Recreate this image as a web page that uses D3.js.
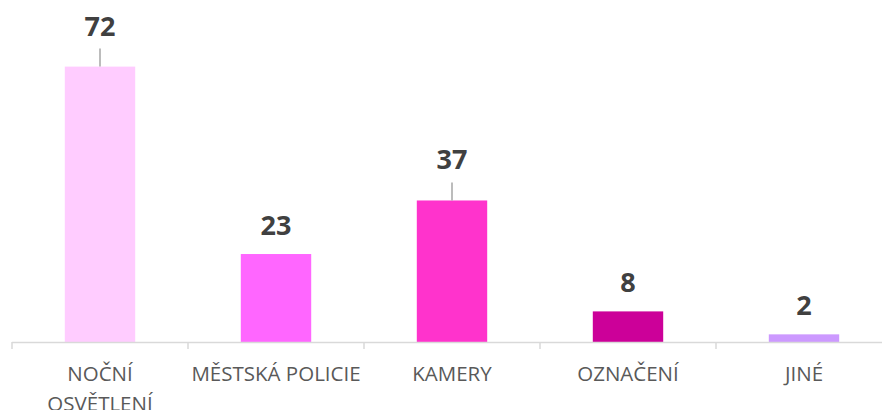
<!DOCTYPE html>
<html>
<head>
<meta charset="utf-8">
<script src="https://cdn.jsdelivr.net/npm/d3@7"></script>
<style>
    body { margin: 0; background: #fff; }
</style>
</head>
<body>
<div id="chart"></div>
<script>
const categories = [["NOČNÍ", "OSVĚTLENÍ"], ["MĚSTSKÁ POLICIE"], ["KAMERY"], ["OZNAČENÍ"], ["JINÉ"]];
const values = [72, 23, 37, 8, 2];
const colors = ["#FFCCFF", "#FF66FF", "#FF33CC", "#CC0099", "#CC99FF"];
const hasLeader = [true, false, true, false, false];

const width = 882, height = 410;
const margin = {top: 36, right: -10, bottom: 68, left: 12};
const baseY = height - margin.bottom;

const svg = d3.select("#chart")
    .append("svg")
    .attr("width", width)
    .attr("height", height);

const x = d3.scaleBand()
    .domain(d3.range(values.length))
    .range([margin.left, width - margin.right])
    .paddingInner(0.6)
    .paddingOuter(0.3);

const y = d3.scaleLinear()
    .domain([0, 80])
    .range([baseY, margin.top]);

// bars
svg.selectAll(".bar")
    .data(values)
    .enter()
    .append("rect")
    .attr("x", (d, i) => x(i))
    .attr("width", x.bandwidth())
    .attr("y", d => y(d))
    .attr("height", d => baseY - y(d))
    .attr("fill", (d, i) => colors[i]);

// axis line + tick marks between categories
const step = x.step();
const edges = d3.range(values.length + 1).map(i => margin.left + i * step);
svg.append("line")
    .attr("x1", margin.left).attr("x2", width - margin.right)
    .attr("y1", baseY + 0.5).attr("y2", baseY + 0.5)
    .attr("stroke", "#d9d9d9").attr("stroke-width", 1.5);
svg.selectAll(".tick")
    .data(edges)
    .enter()
    .append("line")
    .attr("x1", d => d).attr("x2", d => d)
    .attr("y1", baseY).attr("y2", baseY + 7)
    .attr("stroke", "#d9d9d9").attr("stroke-width", 1.5);

// leader lines
svg.selectAll(".leader")
    .data(values.map((v, i) => ({v, i})).filter(d => hasLeader[d.i]))
    .enter()
    .append("line")
    .attr("x1", d => x(d.i) + x.bandwidth() / 2)
    .attr("x2", d => x(d.i) + x.bandwidth() / 2)
    .attr("y1", d => y(d.v) - 18)
    .attr("y2", d => y(d.v))
    .attr("stroke", "#a6a6a6").attr("stroke-width", 1.5);

// value labels
svg.selectAll(".val")
    .data(values)
    .enter()
    .append("text")
    .attr("x", (d, i) => x(i) + x.bandwidth() / 2)
    .attr("y", (d, i) => y(d) - (hasLeader[i] ? 31 : 19))
    .attr("text-anchor", "middle")
    .style("font-family", "'Open Sans', sans-serif")
    .style("font-weight", "bold")
    .style("font-size", "27px")
    .style("fill", "#404040")
    .text(d => d);

// category labels
const cat = svg.selectAll(".cat")
    .data(categories)
    .enter()
    .append("text")
    .attr("x", (d, i) => x(i) + x.bandwidth() / 2)
    .attr("y", baseY + 39)
    .attr("text-anchor", "middle")
    .style("font-family", "'Open Sans', sans-serif")
    .style("font-size", "20.5px")
    .style("fill", "#595959");

cat.selectAll("tspan")
    .data((d, i) => d.map(t => ({t, cx: x(i) + x.bandwidth() / 2})))
    .enter()
    .append("tspan")
    .attr("x", d => d.cx)
    .attr("dy", (d, j) => j === 0 ? 0 : 30)
    .text(d => d.t);
</script>
</body>
</html>
